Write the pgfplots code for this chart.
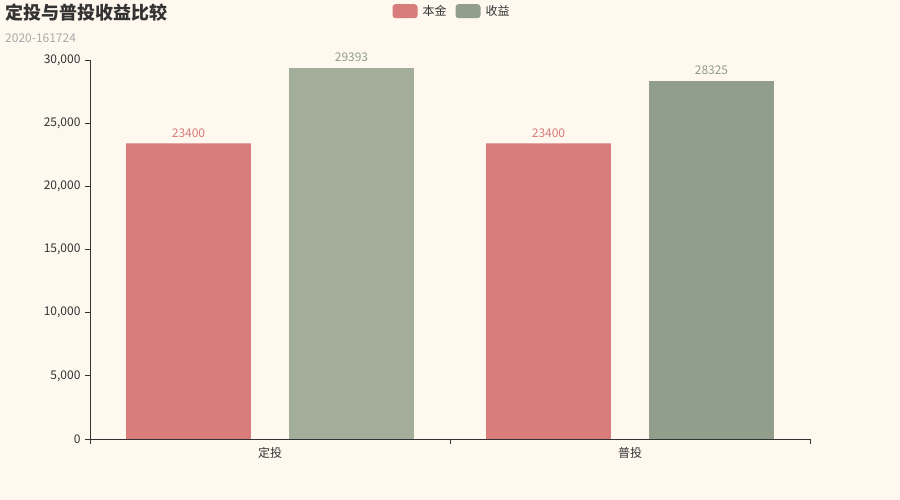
\documentclass[border=0pt]{standalone}
\usepackage{pgfplots}
\pgfplotsset{compat=1.18}
\usepackage{pgfplotstable}
\usepackage{fontspec}
\setmainfont{Noto Sans CJK SC}
\definecolor{bg}{HTML}{FEF8EF}
\definecolor{cred}{HTML}{D87C7C}
\definecolor{cgreen}{HTML}{919E8B}
\definecolor{cgreenl}{HTML}{A2AE99}
\definecolor{txt}{HTML}{333333}
\definecolor{sub}{HTML}{AAAAAA}
\pgfplotstableread{
x y
0 23400
1 23400
}\benjin
\pgfplotstableread{
x y
0 29393
}\shouyiA
\pgfplotstableread{
x y
1 28325
}\shouyiB
\begin{document}
\begin{tikzpicture}[x=1pt,y=1pt]
\fill[bg] (0,0) rectangle (900,500);
\useasboundingbox (0,0) rectangle (900,500);
\node[anchor=base west, font=\fontsize{18pt}{20pt}\selectfont\bfseries, text=txt, inner sep=0pt] at (5,480) {定投与普投收益比较};
\node[anchor=base west, font=\fontsize{12pt}{14pt}\selectfont, text=sub, inner sep=0pt] at (5,457) {2020-161724};
\begin{axis}[
  at={(90pt,61pt)}, anchor=south west,
  scale only axis, width=720pt, height=379pt,
  xmin=-0.5, xmax=1.5, ymin=0, ymax=30000,
  axis lines*=left,
  axis line style={draw=txt, line width=0.8pt},
  ybar, bar width=0.347,
  /pgf/number format/1000 sep={,},
  /pgf/number format/assume math mode=true,
  scaled y ticks=false,
  ytick={0,5000,10000,15000,20000,25000,30000},
  xtick={-0.5,0.5,1.5}, xticklabels={},
  extra x ticks={0,1}, extra x tick labels={定投,普投},
  extra x tick style={tick style={draw=none}},
  tick align=outside, major tick length=5pt,
  tick style={draw=txt, line width=0.8pt},
  tick label style={text=txt, font=\fontsize{12pt}{14pt}\selectfont},
  yticklabel style={xshift=-1pt},
  legend image code/.code={\fill[#1, rounded corners=3pt] (0pt,-7pt) rectangle (25pt,7pt);},
  legend columns=2,
  legend style={at={(0.5,1)}, anchor=north, yshift=56pt, xshift=1pt, draw=none, fill=none,
    font=\fontsize{12pt}{14pt}\selectfont, text=txt, inner sep=0pt,
    nodes={inner sep=0pt},
    /tikz/every odd column/.append style={column sep=5pt},
    /tikz/every even column/.append style={column sep=9pt}},
]
\addplot[fill=cred, draw=none, bar shift=-0.2264,
  nodes near coords={\pgfmathprintnumber[fixed,precision=0,1000 sep={}]{\pgfplotspointmeta}},
  every node near coord/.append style={text=cred, anchor=south, inner sep=0pt, yshift=6pt, font=\fontsize{12pt}{14pt}\selectfont}]
  table[x=x,y=y]{\benjin};
\addlegendentry{本金}
\addplot[fill=cgreen, draw=none, bar shift=0.2264,
  nodes near coords={\pgfmathprintnumber[fixed,precision=0,1000 sep={}]{\pgfplotspointmeta}},
  every node near coord/.append style={text=cgreen, anchor=south, inner sep=0pt, yshift=6pt, font=\fontsize{12pt}{14pt}\selectfont}]
  table[x=x,y=y]{\shouyiB};
\addlegendentry{收益}
\addplot[fill=cgreenl, draw=none, bar shift=0.2264, forget plot,
  nodes near coords={\pgfmathprintnumber[fixed,precision=0,1000 sep={}]{\pgfplotspointmeta}},
  every node near coord/.append style={text=cgreen, anchor=south, inner sep=0pt, yshift=6pt, font=\fontsize{12pt}{14pt}\selectfont}]
  table[x=x,y=y]{\shouyiA};
\end{axis}
\end{tikzpicture}
\end{document}
